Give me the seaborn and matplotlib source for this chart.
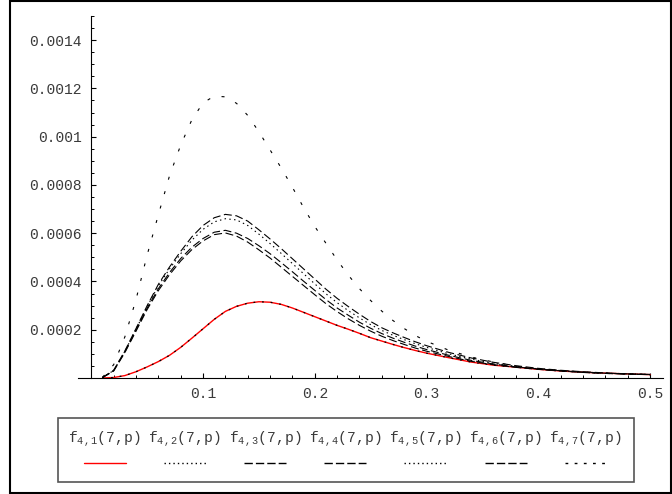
import matplotlib
matplotlib.use("Agg")
import numpy as np
import pandas as pd
import matplotlib.pyplot as plt
import seaborn as sns
from matplotlib.lines import Line2D
from matplotlib.patches import Rectangle
from matplotlib.ticker import FixedLocator, FixedFormatter

# ---- data -------------------------------------------------------------
p = [0.01, 0.02, 0.03, 0.04, 0.05, 0.06, 0.07, 0.08, 0.09, 0.10,
     0.11, 0.12, 0.13, 0.14, 0.15, 0.16, 0.17, 0.18, 0.19, 0.20,
     0.21, 0.22, 0.23, 0.24, 0.25, 0.26, 0.27, 0.28, 0.29, 0.30,
     0.32, 0.34, 0.36, 0.38, 0.40, 0.42, 0.44, 0.46, 0.48, 0.50]

f41 = [0.0, 0.000002, 0.000010, 0.000026, 0.000046, 0.000068, 0.000094, 0.000127, 0.000165, 0.000204,
       0.000243, 0.000276, 0.000297, 0.000310, 0.000316, 0.000314, 0.000305, 0.000290, 0.000272, 0.000254,
       0.000236, 0.000218, 0.000202, 0.000185, 0.000167, 0.000153, 0.000139, 0.000126, 0.000114, 0.000103,
       0.000084, 0.000066, 0.000053, 0.000045, 0.000036, 0.000029, 0.000024, 0.000020, 0.000017, 0.000014]

f42 = [0.0, 0.000002, 0.000010, 0.000026, 0.000046, 0.000068, 0.000094, 0.000127, 0.000165, 0.000204,
       0.000243, 0.000276, 0.000297, 0.000310, 0.000316, 0.000314, 0.000305, 0.000290, 0.000272, 0.000254,
       0.000236, 0.000218, 0.000202, 0.000185, 0.000167, 0.000153, 0.000139, 0.000126, 0.000114, 0.000103,
       0.000084, 0.000066, 0.000053, 0.000045, 0.000036, 0.000029, 0.000024, 0.000020, 0.000017, 0.000014]

f43 = [0.000002, 0.000032, 0.000112, 0.000205, 0.000300, 0.000388, 0.000460, 0.000525, 0.000585, 0.000632,
       0.000664, 0.000678, 0.000672, 0.000650, 0.000614, 0.000576, 0.000536, 0.000494, 0.000452, 0.000410,
       0.000368, 0.000330, 0.000296, 0.000264, 0.000234, 0.000208, 0.000187, 0.000168, 0.000150, 0.000134,
       0.000106, 0.000083, 0.000065, 0.000051, 0.000040, 0.000032, 0.000026, 0.000021, 0.000017, 0.000015]

f44 = [0.000002, 0.000030, 0.000108, 0.000198, 0.000290, 0.000370, 0.000437, 0.000495, 0.000542, 0.000578,
       0.000604, 0.000612, 0.000600, 0.000578, 0.000548, 0.000515, 0.000478, 0.000440, 0.000401, 0.000363,
       0.000325, 0.000290, 0.000260, 0.000231, 0.000206, 0.000184, 0.000165, 0.000148, 0.000132, 0.000118,
       0.000094, 0.000073, 0.000058, 0.000046, 0.000037, 0.000030, 0.000024, 0.000020, 0.000017, 0.000014]

f45 = [0.000002, 0.000031, 0.000110, 0.000202, 0.000296, 0.000382, 0.000452, 0.000515, 0.000571, 0.000616,
       0.000647, 0.000660, 0.000655, 0.000632, 0.000596, 0.000557, 0.000516, 0.000474, 0.000432, 0.000390,
       0.000349, 0.000312, 0.000279, 0.000249, 0.000221, 0.000197, 0.000177, 0.000159, 0.000142, 0.000127,
       0.000100, 0.000078, 0.000061, 0.000048, 0.000038, 0.000031, 0.000025, 0.000020, 0.000017, 0.000015]

f46 = [0.000002, 0.000029, 0.000105, 0.000194, 0.000284, 0.000362, 0.000428, 0.000485, 0.000532, 0.000568,
       0.000594, 0.000601, 0.000588, 0.000563, 0.000531, 0.000497, 0.000459, 0.000421, 0.000383, 0.000345,
       0.000308, 0.000275, 0.000245, 0.000218, 0.000194, 0.000173, 0.000155, 0.000139, 0.000124, 0.000111,
       0.000089, 0.000069, 0.000055, 0.000044, 0.000036, 0.000029, 0.000023, 0.000019, 0.000016, 0.000014]

f47 = [0.000003, 0.000055, 0.000170, 0.000325, 0.000510, 0.000676, 0.000838, 0.000965, 0.001070, 0.001140,
       0.001168, 0.001165, 0.001138, 0.001088, 0.001020, 0.000945, 0.000870, 0.000790, 0.000706, 0.000628,
       0.000558, 0.000489, 0.000426, 0.000370, 0.000321, 0.000277, 0.000238, 0.000205, 0.000176, 0.000152,
       0.000115, 0.000087, 0.000066, 0.000049, 0.000037, 0.000029, 0.000023, 0.000019, 0.000016, 0.000014]

curve_names = ["f41", "f42", "f43", "f44", "f45", "f46", "f47"]
curve_values = [f41, f42, f43, f44, f45, f46, f47]
legend_labels = [r"f$_{4,1}$(7,p)", r"f$_{4,2}$(7,p)", r"f$_{4,3}$(7,p)", r"f$_{4,4}$(7,p)",
                 r"f$_{4,5}$(7,p)", r"f$_{4,6}$(7,p)", r"f$_{4,7}$(7,p)"]

x_major = [0.1, 0.2, 0.3, 0.4, 0.5]
x_major_labels = ["0.1", "0.2", "0.3", "0.4", "0.5"]
y_major = [0.0002, 0.0004, 0.0006, 0.0008, 0.001, 0.0012, 0.0014]
y_major_labels = ["0.0002", "0.0004", "0.0006", "0.0008", "0.001", "0.0012", "0.0014"]

# ---- styling ----------------------------------------------------------
sns.set_theme(style="white")
plt.rcParams["font.family"] = ["Liberation Mono", "DejaVu Sans"]
plt.rcParams["mathtext.fontset"] = "custom"
plt.rcParams["mathtext.rm"] = "Liberation Mono"
plt.rcParams["mathtext.it"] = "Liberation Mono"
plt.rcParams["mathtext.bf"] = "Liberation Mono"

W, H = 672, 494
fig = plt.figure(figsize=(W / 100, H / 100), dpi=100)
fig.patch.set_facecolor("white")

ax = fig.add_axes([78 / W, 1 - 378 / H, (663 - 78) / W, (378 - 16) / H])
ax.set_facecolor("white")

palette = {"f41": "#ff0000", "f42": "black", "f43": "black", "f44": "black",
           "f45": "black", "f46": "black", "f47": "black"}
dashes = {"f41": "", "f42": (1.4, 5.5), "f43": (7.2, 3.2), "f44": (7.2, 3.2),
          "f45": (1.3, 3.0), "f46": (7.2, 3.2), "f47": (2.7, 10.8)}

df = pd.concat([pd.DataFrame({"p": p, "v": vals, "curve": name})
                for name, vals in zip(curve_names, curve_values)], ignore_index=True)

sns.lineplot(data=df, x="p", y="v", hue="curve", style="curve",
             palette=palette, dashes=dashes, linewidth=0.8,
             estimator=None, sort=False, legend=False, ax=ax)
ax.lines[0].set_linewidth(1.0)
ax.lines[1].set_linewidth(0.9)
ax.lines[1].set_zorder(3)

ax.set_xlim(-0.0119, 0.5116)
ax.set_ylim(0, 0.0015)
ax.set_xlabel("")
ax.set_ylabel("")

for side in ["top", "right"]:
    ax.spines[side].set_visible(False)
ax.spines["left"].set_position(("data", 0))
for side in ["left", "bottom"]:
    ax.spines[side].set_color("black")
    ax.spines[side].set_linewidth(0.8)

ax.xaxis.set_major_locator(FixedLocator(x_major))
ax.xaxis.set_major_formatter(FixedFormatter(x_major_labels))
ax.xaxis.set_minor_locator(FixedLocator([i * 0.02 for i in range(1, 26)]))
ax.yaxis.set_major_locator(FixedLocator(y_major))
ax.yaxis.set_major_formatter(FixedFormatter(y_major_labels))
ax.yaxis.set_minor_locator(FixedLocator([i * 0.00005 for i in range(1, 31)]))

ax.tick_params(axis="both", which="both", bottom=True, left=True, top=False, right=False)
ax.tick_params(axis="both", which="major", direction="in", length=3.8, width=0.8,
               color="black", labelsize=10.5, labelcolor="#3a3a3a")
ax.tick_params(axis="both", which="minor", direction="in", length=2.2, width=0.7, color="black")
ax.tick_params(axis="x", which="major", pad=6.5)
ax.tick_params(axis="y", which="major", pad=7)

# ---- legend panel -----------------------------------------------------
def fx(px):
    return px / W

def fy(py):
    return 1 - py / H

fig.patches.append(Rectangle((fx(58), fy(482)), fx(634) - fx(58), fy(418) - fy(482),
                             transform=fig.transFigure, facecolor="white",
                             edgecolor="#555555", linewidth=1.2, zorder=5))

legend_dashes = [None, (1.0, 2.2), (6.0, 2.2), (6.0, 2.2), (1.0, 2.2), (6.0, 2.2), (2.0, 4.6)]
legend_colors = ["#ff0000", "black", "black", "black", "black", "black", "black"]
for i, lab in enumerate(legend_labels):
    cx = 104.5 + i * 80.2
    fig.text(fx(cx), fy(439), lab, ha="center", va="center", fontsize=10.5,
             color="#3a3a3a", zorder=6)
    ln = Line2D([fx(cx - 21), fx(cx + 21)], [fy(463), fy(463)], transform=fig.transFigure,
                color=legend_colors[i], linewidth=1.0, zorder=6)
    if legend_dashes[i] is not None:
        ln.set_dashes(legend_dashes[i])
    fig.lines.append(ln)

# ---- outer frame ------------------------------------------------------
fig.patches.append(Rectangle((fx(10), fy(493)), fx(671) - fx(10), fy(1) - fy(493),
                             transform=fig.transFigure, facecolor="none",
                             edgecolor="black", linewidth=1.5, zorder=7))

fig.savefig("out.png", dpi=100)
